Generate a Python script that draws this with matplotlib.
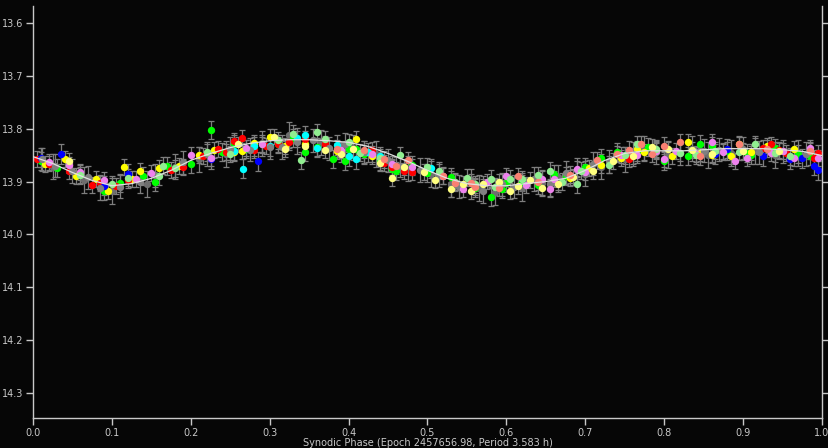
import matplotlib
matplotlib.use("Agg")
import matplotlib.pyplot as plt

# ---------------- data ----------------
fit_phase = [0.00, 0.025, 0.05, 0.075, 0.10, 0.125, 0.15, 0.175, 0.20, 0.225,
             0.25, 0.275, 0.30, 0.325, 0.35, 0.375, 0.40, 0.425, 0.45, 0.475,
             0.50, 0.525, 0.55, 0.575, 0.60, 0.625, 0.65, 0.675, 0.70, 0.725,
             0.75, 0.775, 0.80, 0.825, 0.85, 0.875, 0.90, 0.925, 0.95, 0.975, 1.00]
fit_mag = [13.853, 13.866, 13.883, 13.898, 13.908, 13.904, 13.894, 13.879, 13.860, 13.847,
           13.836, 13.828, 13.823, 13.821, 13.821, 13.823, 13.826, 13.834, 13.847, 13.862,
           13.879, 13.894, 13.904, 13.908, 13.908, 13.904, 13.900, 13.894, 13.879, 13.860,
           13.847, 13.842, 13.842, 13.842, 13.840, 13.838, 13.838, 13.838, 13.840, 13.843, 13.851]

green_phase = [0.01, 0.03, 0.06, 0.09, 0.11, 0.14, 0.17, 0.20, 0.225, 0.24, 0.27, 0.29, 0.31, 0.33,
               0.36, 0.38, 0.40, 0.42, 0.44, 0.46, 0.48, 0.50, 0.53, 0.56, 0.58, 0.60, 0.62, 0.64,
               0.66, 0.70, 0.72, 0.74, 0.78, 0.80, 0.83, 0.86, 0.88, 0.91, 0.94, 0.97,
               0.155, 0.255, 0.345, 0.395, 0.41, 0.455, 0.595, 0.675, 0.765, 0.845, 0.905, 0.985]
green_mag = [13.862, 13.875, 13.886, 13.918, 13.902, 13.889, 13.870, 13.866, 13.803, 13.845, 13.838,
             13.830, 13.829, 13.818, 13.834, 13.858, 13.838, 13.848, 13.861, 13.880, 13.868, 13.884,
             13.892, 13.913, 13.929, 13.902, 13.900, 13.906, 13.885, 13.873, 13.855, 13.845, 13.835,
             13.862, 13.852, 13.833, 13.842, 13.850, 13.836, 13.848,
             13.900, 13.830, 13.845, 13.862, 13.838, 13.876, 13.915, 13.890, 13.845, 13.829, 13.847, 13.852]

yellow_phase = [0.015, 0.04, 0.055, 0.08, 0.095, 0.115, 0.125, 0.135, 0.16, 0.185, 0.21, 0.23, 0.255,
                0.265, 0.28, 0.30, 0.32, 0.345, 0.385, 0.41, 0.43, 0.68, 0.705, 0.72, 0.745, 0.765,
                0.775, 0.79, 0.81, 0.83, 0.845, 0.86, 0.875, 0.885, 0.895, 0.91, 0.93, 0.965, 0.985]
yellow_mag = [13.867, 13.857, 13.890, 13.895, 13.918, 13.872, 13.895, 13.880, 13.875, 13.870, 13.850,
              13.840, 13.845, 13.842, 13.828, 13.815, 13.833, 13.830, 13.843, 13.819, 13.852, 13.893,
              13.875, 13.868, 13.855, 13.838, 13.845, 13.840, 13.852, 13.826, 13.846, 13.850, 13.843,
              13.852, 13.830, 13.845, 13.832, 13.838, 13.843]

red_phase = [0.005, 0.02, 0.045, 0.075, 0.085, 0.105, 0.12, 0.175, 0.19, 0.215, 0.235, 0.245, 0.255,
             0.265, 0.28, 0.295, 0.31, 0.325, 0.345, 0.37, 0.43, 0.445, 0.455, 0.47, 0.48, 0.755,
             0.925, 0.935, 0.945, 0.955, 0.99, 0.995]
red_mag = [13.858, 13.866, 13.880, 13.906, 13.902, 13.908, 13.898, 13.878, 13.872, 13.852, 13.838,
           13.844, 13.823, 13.818, 13.840, 13.833, 13.830, 13.825, 13.820, 13.829, 13.840, 13.865,
           13.873, 13.880, 13.882, 13.858, 13.836, 13.830, 13.840, 13.846, 13.855, 13.846]

blue_phase = [0.01, 0.035, 0.09, 0.12, 0.225, 0.285, 0.865, 0.88, 0.925, 0.96, 0.975, 0.99, 0.995]
blue_mag = [13.855, 13.848, 13.908, 13.885, 13.858, 13.862, 13.848, 13.838, 13.852, 13.858, 13.856,
            13.870, 13.879]

cyan_phase = [0.255, 0.266, 0.28, 0.30, 0.335, 0.345, 0.36, 0.385, 0.40, 0.41, 0.425, 0.44, 0.505]
cyan_mag = [13.843, 13.876, 13.833, 13.833, 13.817, 13.813, 13.836, 13.831, 13.852, 13.858, 13.845,
            13.852, 13.875]

grey_phase = [0.012, 0.028, 0.05, 0.07, 0.085, 0.11, 0.135, 0.155, 0.19, 0.22, 0.25, 0.275, 0.30,
              0.315, 0.335, 0.355, 0.375, 0.395, 0.42, 0.45, 0.465, 0.49, 0.515, 0.54, 0.555, 0.57,
              0.595, 0.61, 0.635, 0.655, 0.675, 0.69, 0.71, 0.73, 0.76, 0.79, 0.82, 0.85, 0.87, 0.90,
              0.92, 0.95, 0.98]
grey_mag = [13.858, 13.870, 13.880, 13.892, 13.912, 13.910, 13.900, 13.888, 13.864, 13.848, 13.838,
            13.840, 13.835, 13.835, 13.826, 13.822, 13.837, 13.830, 13.845, 13.860, 13.870, 13.878,
            13.888, 13.910, 13.898, 13.918, 13.905, 13.910, 13.895, 13.905, 13.883, 13.878, 13.866,
            13.862, 13.848, 13.845, 13.847, 13.842, 13.840, 13.838, 13.845, 13.843, 13.848]

dgrey_phase = [0.025, 0.065, 0.1, 0.145, 0.18, 0.21, 0.245, 0.29, 0.325, 0.365, 0.405, 0.435, 0.475,
               0.505, 0.53, 0.565, 0.585, 0.62, 0.645, 0.665, 0.7, 0.72, 0.75, 0.775, 0.805, 0.835,
               0.855, 0.885, 0.915, 0.94, 0.97]
dgrey_mag = [13.872, 13.897, 13.918, 13.905, 13.872, 13.858, 13.848, 13.828, 13.812, 13.826, 13.836,
             13.848, 13.875, 13.886, 13.905, 13.912, 13.920, 13.912, 13.902, 13.892, 13.885, 13.872,
             13.858, 13.838, 13.850, 13.838, 13.850, 13.846, 13.842, 13.850, 13.846]

violet_phase = [0.02, 0.045, 0.06, 0.09, 0.13, 0.15, 0.20, 0.225, 0.27, 0.29, 0.39, 0.43, 0.455, 0.48,
                0.52, 0.545, 0.575, 0.60, 0.625, 0.645, 0.655, 0.66, 0.69, 0.70, 0.745, 0.765, 0.79,
                0.80, 0.815, 0.84, 0.86, 0.875, 0.89, 0.905, 0.935, 0.95, 0.965, 0.985, 0.995]
violet_mag = [13.863, 13.868, 13.882, 13.897, 13.896, 13.884, 13.850, 13.856, 13.836, 13.830, 13.840,
              13.848, 13.866, 13.873, 13.890, 13.915, 13.900, 13.890, 13.907, 13.895, 13.915, 13.896,
              13.876, 13.882, 13.850, 13.850, 13.842, 13.858, 13.842, 13.848, 13.826, 13.845, 13.862,
              13.856, 13.847, 13.842, 13.855, 13.837, 13.855]

lgreen_phase = [0.06, 0.10, 0.12, 0.16, 0.165, 0.18, 0.22, 0.25, 0.31, 0.33, 0.34, 0.36, 0.37, 0.40,
                0.415, 0.44, 0.465, 0.50, 0.515, 0.535, 0.55, 0.56, 0.58, 0.585, 0.605, 0.62, 0.64,
                0.655, 0.67, 0.69, 0.695, 0.73, 0.75, 0.765, 0.79, 0.82, 0.84, 0.865, 0.895, 0.915,
                0.94, 0.96]
lgreen_mag = [13.888, 13.905, 13.893, 13.890, 13.870, 13.875, 13.845, 13.848, 13.822, 13.810, 13.860,
              13.807, 13.820, 13.826, 13.846, 13.855, 13.850, 13.872, 13.880, 13.900, 13.893, 13.905,
              13.895, 13.910, 13.895, 13.896, 13.888, 13.880, 13.900, 13.905, 13.880, 13.868, 13.850,
              13.830, 13.838, 13.846, 13.850, 13.842, 13.844, 13.830, 13.847, 13.852]

lyellow_phase = [0.045, 0.26, 0.305, 0.32, 0.345, 0.37, 0.39, 0.405, 0.44, 0.455, 0.47, 0.495, 0.51,
                 0.53, 0.545, 0.555, 0.57, 0.59, 0.605, 0.615, 0.63, 0.645, 0.665, 0.685, 0.71, 0.735,
                 0.76, 0.785, 0.805, 0.835, 0.86, 0.90, 0.945]
lyellow_mag = [13.862, 13.830, 13.815, 13.838, 13.832, 13.840, 13.848, 13.838, 13.865, 13.893, 13.872,
               13.882, 13.898, 13.915, 13.905, 13.918, 13.905, 13.900, 13.918, 13.908, 13.897, 13.912,
               13.905, 13.892, 13.880, 13.862, 13.852, 13.835, 13.838, 13.840, 13.848, 13.842, 13.843]

salmon_phase = [0.385, 0.42, 0.445, 0.46, 0.475, 0.52, 0.535, 0.555, 0.56, 0.59, 0.615, 0.64, 0.68,
                0.715, 0.74, 0.755, 0.77, 0.785, 0.80, 0.82, 0.845, 0.895, 0.93, 0.985]
salmon_mag = [13.838, 13.840, 13.858, 13.870, 13.860, 13.889, 13.902, 13.902, 13.910, 13.912, 13.890,
              13.900, 13.887, 13.860, 13.848, 13.840, 13.830, 13.848, 13.832, 13.826, 13.852, 13.830,
              13.838, 13.842]

# typical photometric error of each session (mag)
session_err = [0.017, 0.015, 0.015, 0.018, 0.018, 0.022, 0.024, 0.015, 0.016, 0.015, 0.016]

# ---------------- plot ----------------
BG = "#060606"
FG = "#C8C8C8"
series = [
    (dgrey_phase, dgrey_mag, "#6E6E6E"),
    (green_phase, green_mag, "#00FF00"),
    (yellow_phase, yellow_mag, "#FFFF00"),
    (red_phase, red_mag, "#FF0000"),
    (blue_phase, blue_mag, "#0000FF"),
    (cyan_phase, cyan_mag, "#00FFFF"),
    (grey_phase, grey_mag, "#808080"),
    (violet_phase, violet_mag, "#EE82EE"),
    (lgreen_phase, lgreen_mag, "#90EE90"),
    (lyellow_phase, lyellow_mag, "#FFFF80"),
    (salmon_phase, salmon_mag, "#FA8072"),
]
errs = [session_err[6]] + session_err[:6] + session_err[7:]

fig = plt.figure(figsize=(8.29, 4.48), dpi=100, facecolor=BG)
ax = fig.add_axes([33 / 829, 30 / 448, 789 / 829, 412 / 448], facecolor=BG)

for (ph, mg, col), err in zip(series, errs):
    ax.errorbar(ph, mg, yerr=err, fmt="none", ecolor="#7E7E7E", elinewidth=0.9,
                capsize=2.5, capthick=0.9, zorder=1)
for (ph, mg, col) in series:
    ax.plot(ph, mg, "o", color=col, markersize=5.3, markeredgewidth=0, zorder=2)

ax.plot(fit_phase, fit_mag, color="#E0E0E0", linewidth=0.9, zorder=3)

ax.set_xlim(0.0, 1.0)
ax.set_ylim(14.3467, 13.5685)
ax.set_xticks([0.0, 0.1, 0.2, 0.3, 0.4, 0.5, 0.6, 0.7, 0.8, 0.9, 1.0])
ax.set_xticklabels(["0.0", "0.1", "0.2", "0.3", "0.4", "0.5", "0.6", "0.7", "0.8", "0.9", "1.0"])
ax.set_yticks([13.6, 13.7, 13.8, 13.9, 14.0, 14.1, 14.2, 14.3])
ax.set_yticklabels(["13.6", "13.7", "13.8", "13.9", "14.0", "14.1", "14.2", "14.3"])

for s in ["left", "right", "bottom"]:
    ax.spines[s].set_color(FG)
    ax.spines[s].set_linewidth(1.0)
ax.spines["top"].set_visible(False)
ax.tick_params(axis="both", colors=FG, labelsize=7, length=5, width=1, direction="out", pad=2)
ax.tick_params(axis="y", right=True, labelright=False)

ax.set_xlabel("Synodic Phase (Epoch 2457656.98, Period 3.583 h)", color=FG, fontsize=7, labelpad=0)

fig.savefig("out.png", dpi=100, facecolor=BG)
